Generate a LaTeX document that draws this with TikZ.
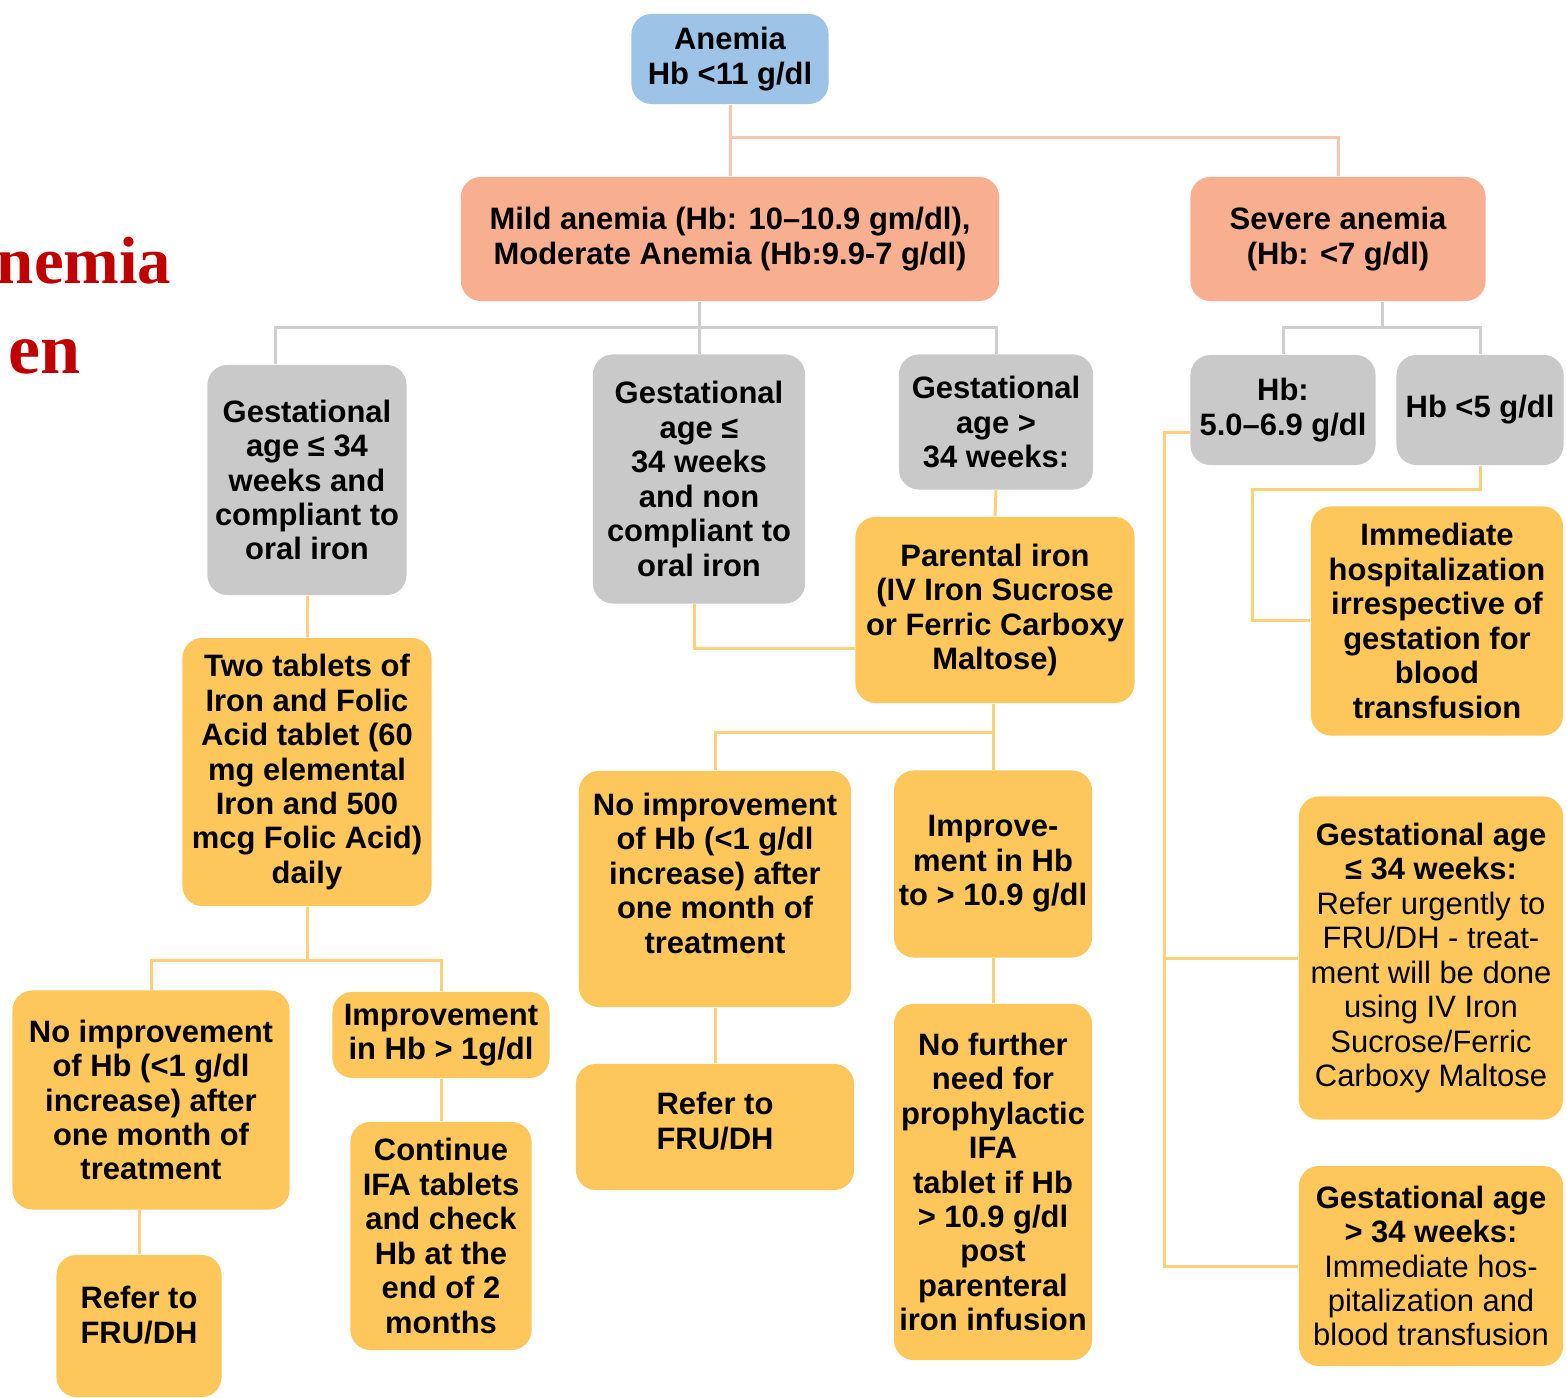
\documentclass[tikz,border=0pt]{standalone}
\usepackage{fontspec}
\setmainfont{Liberation Sans}
\newfontfamily\headserif{Liberation Serif}
\usepackage{tikz}
\usetikzlibrary{positioning, calc}

\definecolor{anblue}{HTML}{9DC3E6}
\definecolor{ansalmon}{HTML}{F8AF8F}
\definecolor{ansalmonline}{HTML}{F8C5AE}
\definecolor{angrey}{HTML}{C9C9C9}
\definecolor{angreyline}{HTML}{CFCFCF}
\definecolor{angold}{HTML}{FEC75B}
\definecolor{angoldline}{HTML}{FED07A}
\definecolor{headred}{HTML}{C00000}

\begin{document}
\begin{tikzpicture}[
    x=0.01cm, y=-0.01cm,
    box/.style={rectangle, rounded corners=0.2cm, align=center, inner sep=0pt,
                font=\fontsize{8.8}{9.8}\selectfont\bfseries},
    bluebox/.style={box, fill=anblue},
    redbox/.style={box, fill=ansalmon},
    greybox/.style={box, fill=angrey},
    goldbox/.style={box, fill=angold},
    plaingold/.style={goldbox, font=\fontsize{8.8}{9.8}\selectfont\mdseries},
    redline/.style={draw=ansalmonline, line width=0.03cm},
    greyline/.style={draw=angreyline, line width=0.03cm},
    goldline/.style={draw=angoldline, line width=0.03cm},
    headline/.style={anchor=base east, inner sep=0pt, text=headred,
                     font=\headserif\bfseries\fontsize{19}{22}\selectfont}
]
\useasboundingbox (0,0) rectangle (1567,1398);

% cut-off slide title
\node[headline] (titlea) at (172,284) {nemia};
\node[headline, font=\headserif\bfseries\fontsize{20.5}{22}\selectfont] (titleb) at (81,374) {en};

% first levels
\node[bluebox, minimum width=1.97cm, minimum height=0.90cm] (anemia) at (730,59) {Anemia\\Hb <11 g/dl};
\node[redbox, minimum width=5.38cm, minimum height=1.24cm] (mild) at (730,239)
    {Mild anemia (Hb: 10--10.9 gm/dl),\\Moderate Anemia (Hb:9.9-7 g/dl)};
\node[redbox, minimum width=2.95cm, minimum height=1.24cm] (severe) at (1338,239)
    {Severe anemia\\(Hb: <7 g/dl)};

\node[greybox, minimum width=1.99cm, minimum height=2.30cm] (gaoral) at (307,480)
    {Gestational\\age ≤ 34\\weeks and\\compliant to\\oral iron};
\node[greybox, minimum width=2.12cm, minimum height=2.49cm] (ganon) at (699,479)
    {Gestational\\age ≤\\34 weeks\\and non\\compliant to\\oral iron};
\node[greybox, minimum width=1.94cm, minimum height=1.35cm] (galate) at (996,422)
    {Gestational\\age >\\34 weeks:};
\node[greybox, minimum width=1.85cm, minimum height=1.10cm] (hbmid) at (1283,410)
    {Hb:\\5.0--6.9 g/dl};
\node[greybox, minimum width=1.67cm, minimum height=1.10cm] (hblow) at (1480,410)
    {Hb <5 g/dl};

% oral iron branch
\node[goldbox, minimum width=2.49cm, minimum height=2.68cm] (tablets) at (307,772)
    {Two tablets of\\Iron and Folic\\Acid tablet (60\\mg elemental\\Iron and 500\\mcg Folic Acid)\\daily};
\node[goldbox, minimum width=2.77cm, minimum height=2.19cm] (noimporal) at (151,1100)
    {No improvement\\of Hb (<1 g/dl\\increase) after\\one month of\\treatment};
\node[goldbox, minimum width=2.17cm, minimum height=0.86cm] (imporal) at (441,1035)
    {Improvement\\in Hb > 1g/dl};
\node[goldbox, text depth=0.22cm, minimum width=1.65cm, minimum height=1.42cm] (referoral) at (139,1326)
    {Refer to\\FRU/DH};
\node[goldbox, minimum width=1.81cm, minimum height=2.28cm] (continue) at (441,1236)
    {Continue\\IFA tablets\\and check\\Hb at the\\end of 2\\months};

% parenteral iron branch
\node[goldbox, minimum width=2.79cm, minimum height=1.86cm] (parental) at (995,610)
    {Parental iron\\(IV Iron Sucrose\\or Ferric Carboxy\\Maltose)};
\node[goldbox, text depth=0.32cm, minimum width=2.72cm, minimum height=2.36cm] (noimpiv) at (715,889)
    {No improvement\\of Hb (<1 g/dl\\increase) after\\one month of\\treatment};
\node[goldbox, minimum width=1.98cm, minimum height=1.87cm] (impiv) at (993,864)
    {Improve-\\ment in Hb\\to > 10.9 g/dl};
\node[goldbox, text depth=0.12cm, minimum width=2.78cm, minimum height=1.26cm] (referiv) at (715,1127)
    {Refer to\\FRU/DH};
\node[goldbox, minimum width=1.98cm, minimum height=3.56cm] (nofurther) at (993,1182)
    {No further\\need for\\prophylactic\\IFA\\tablet if Hb\\> 10.9 g/dl\\post\\parenteral\\iron infusion};

% severe branch
\node[goldbox, minimum width=2.52cm, minimum height=2.29cm] (hospnow) at (1437,621)
    {Immediate\\hospitalization\\irrespective of\\gestation for\\blood\\transfusion};
\node[plaingold, minimum width=2.64cm, minimum height=3.23cm] (gaearly) at (1431,958)
    {\textbf{Gestational age}\\\textbf{≤ 34 weeks:}\\Refer urgently to\\FRU/DH - treat-\\ment will be done\\using IV Iron\\Sucrose/Ferric\\Carboxy Maltose};
\node[plaingold, minimum width=2.64cm, minimum height=2.00cm] (galater) at (1431,1266)
    {\textbf{Gestational age}\\\textbf{> 34 weeks:}\\Immediate hos-\\pitalization and\\blood transfusion};

% connectors
\coordinate (topbus) at (730,138);
\coordinate (gbus) at (699,328);
\coordinate (hbus) at (1382,328);
\coordinate (pbus) at (993,733);
\coordinate (obus) at (307,960);
\coordinate (hbend) at (1252,490);
\coordinate (rtrunk) at (1164,0);

\draw[redline] (anemia.south) -- (mild.north);
\draw[redline] (topbus) -| (severe.north);

\draw[greyline] (ganon.north |- mild.south) -- (ganon.north);
\draw[greyline] ([xshift=-0.31cm]gaoral.north) |- (gbus) -| (galate.north);
\draw[greyline] (severe.south -| hbus) -- (hbus);
\draw[greyline] (hbmid.north) |- (hbus) -| (hblow.north);

\foreach \a/\b in {gaoral/tablets, galate/parental, noimpiv/referiv, impiv/nofurther, imporal/continue} {
    \draw[goldline] (\a.south) -- (\b.north);
}
\draw[goldline] ([xshift=-0.05cm]ganon.south) |- ([yshift=-0.38cm]parental.west);
\draw[goldline] (impiv.north |- parental.south) -- (impiv.north);
\draw[goldline] (noimpiv.north) |- (pbus);
\draw[goldline] (tablets.south) -- (obus);
\draw[goldline] (noimporal.north) |- (obus) -| (imporal.north);
\draw[goldline] (referoral.north |- noimporal.south) -- (referoral.north);
\draw[goldline] (hblow.south) |- (hbend) |- (hospnow.west);
\draw[goldline] ([yshift=-0.22cm]hbmid.west) -| (rtrunk |- galater.west) -- (galater.west);
\draw[goldline] (rtrunk |- gaearly.west) -- (gaearly.west);
\end{tikzpicture}
\end{document}
